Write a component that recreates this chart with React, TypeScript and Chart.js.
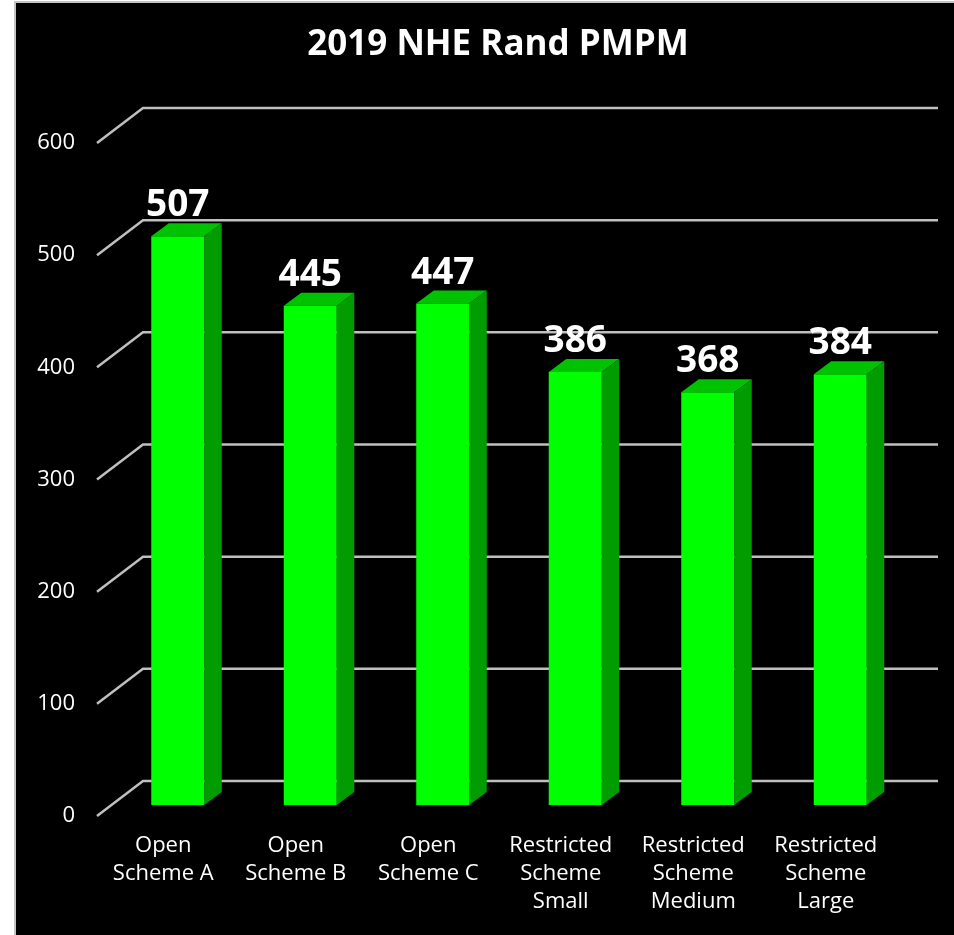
import React, { useEffect, useRef } from "react";
import { Chart, registerables } from "chart.js";

Chart.register(...registerables);

// ---- data ----
const title = "2019 NHE Rand PMPM";
const categories: string[][] = [
  ["Open", "Scheme A"],
  ["Open", "Scheme B"],
  ["Open", "Scheme C"],
  ["Restricted", "Scheme", "Small"],
  ["Restricted", "Scheme", "Medium"],
  ["Restricted", "Scheme", "Large"],
];
const values: number[] = [507, 445, 447, 386, 368, 384];
const yTicks: number[] = [0, 100, 200, 300, 400, 500, 600];

// ---- style ----
const FONT = "'Open Sans', 'DejaVu Sans', sans-serif";
const FRONT = "#00ff00";
const TOP = "#00c200";
const SIDE = "#009c00";
const GRID = "#bfbfbf";
// wall/floor depth relative to bar front plane
const GF = { dx: -14.5, dy: 11 }; // front edge of gridlines
const GB = { dx: 31.5, dy: -24 }; // back edge of gridlines
const BD = { dx: 17.5, dy: 13 }; // bar depth

const threeD = {
  id: "threeD",
  beforeDatasetsDraw(chart: any) {
    const { ctx, chartArea, scales } = chart;
    const y = scales.y;
    ctx.save();
    // title
    ctx.fillStyle = "#ffffff";
    ctx.font = `bold 35px ${FONT}`;
    ctx.textAlign = "center";
    ctx.textBaseline = "middle";
    ctx.fillText(title, 482, 42);
    // 3D gridlines (wall + floor edge)
    ctx.strokeStyle = GRID;
    ctx.lineWidth = 2.5;
    ctx.lineCap = "butt";
    for (const v of yTicks) {
      const py = y.getPixelForValue(v);
      ctx.beginPath();
      ctx.moveTo(chartArea.left + GF.dx, py + GF.dy);
      ctx.lineTo(chartArea.left + GB.dx, py + GB.dy);
      ctx.lineTo(chartArea.right + GB.dx, py + GB.dy);
      ctx.stroke();
    }
    ctx.restore();
  },
  afterDatasetsDraw(chart: any) {
    const { ctx } = chart;
    const meta = chart.getDatasetMeta(0);
    ctx.save();
    meta.data.forEach((bar: any, i: number) => {
      const { x, y, base, width } = bar.getProps(["x", "y", "base", "width"], true);
      const l = x - width / 2;
      const r = x + width / 2;
      // top face
      ctx.fillStyle = TOP;
      ctx.beginPath();
      ctx.moveTo(l, y);
      ctx.lineTo(r, y);
      ctx.lineTo(r + BD.dx, y - BD.dy);
      ctx.lineTo(l + BD.dx, y - BD.dy);
      ctx.closePath();
      ctx.fill();
      // side face
      ctx.fillStyle = SIDE;
      ctx.beginPath();
      ctx.moveTo(r, y);
      ctx.lineTo(r + BD.dx, y - BD.dy);
      ctx.lineTo(r + BD.dx, base - BD.dy);
      ctx.lineTo(r, base);
      ctx.closePath();
      ctx.fill();
      // value label
      ctx.fillStyle = "#ffffff";
      ctx.font = `bold 37px ${FONT}`;
      ctx.textAlign = "center";
      ctx.textBaseline = "alphabetic";
      ctx.fillText(String(values[i]), x, y - 20);
    });
    ctx.restore();
  },
};

export default function App() {
  const ref = useRef<HTMLCanvasElement | null>(null);

  useEffect(() => {
    if (!ref.current) return;
    const chart = new Chart(ref.current, {
      type: "bar",
      data: {
        labels: categories,
        datasets: [
          {
            data: values,
            backgroundColor: FRONT,
            borderWidth: 0,
            barPercentage: 0.4,
            categoryPercentage: 1,
          },
        ],
      },
      options: {
        animation: false,
        responsive: false,
        maintainAspectRatio: false,
        devicePixelRatio: 1,
        layout: { padding: { left: 0, right: 47.5, top: 129, bottom: 0 } },
        plugins: {
          legend: { display: false },
          tooltip: { enabled: false },
          title: { display: false },
        },
        scales: {
          x: {
            grid: { display: false, drawTicks: false },
            border: { display: false },
            ticks: {
              color: "#ffffff",
              font: { family: FONT, size: 22, lineHeight: 1.27 },
              padding: 27,
              labelOffset: -14.5,
              maxRotation: 0,
              autoSkip: false,
            },
            afterFit(scale: any) {
              scale.height = 130;
            },
          },
          y: {
            min: 0,
            max: 600,
            grid: { display: false, drawTicks: false },
            border: { display: false },
            afterBuildTicks(scale: any) {
              scale.ticks = yTicks.map((v) => ({ value: v }));
            },
            ticks: {
              color: "#ffffff",
              font: { family: FONT, size: 22 },
              padding: 36.5,
              labelOffset: 11,
            },
            afterFit(scale: any) {
              scale.width = 95.5;
            },
          },
        },
      },
      plugins: [threeD],
    });
    return () => chart.destroy();
  }, []);

  return (
    <div
      style={{
        position: "fixed",
        left: 0,
        top: 0,
        width: 954,
        height: 935,
        background: "#ffffff",
        overflow: "hidden",
      }}
    >
      <div
        style={{
          position: "absolute",
          left: 14,
          top: 1,
          width: 940,
          height: 934,
          boxSizing: "border-box",
          borderLeft: "2px solid #c4c4c4",
          borderTop: "2px solid #c4c4c4",
          background: "#000000",
        }}
      >
        <canvas ref={ref} width={938} height={932} style={{ display: "block" }} />
      </div>
    </div>
  );
}
